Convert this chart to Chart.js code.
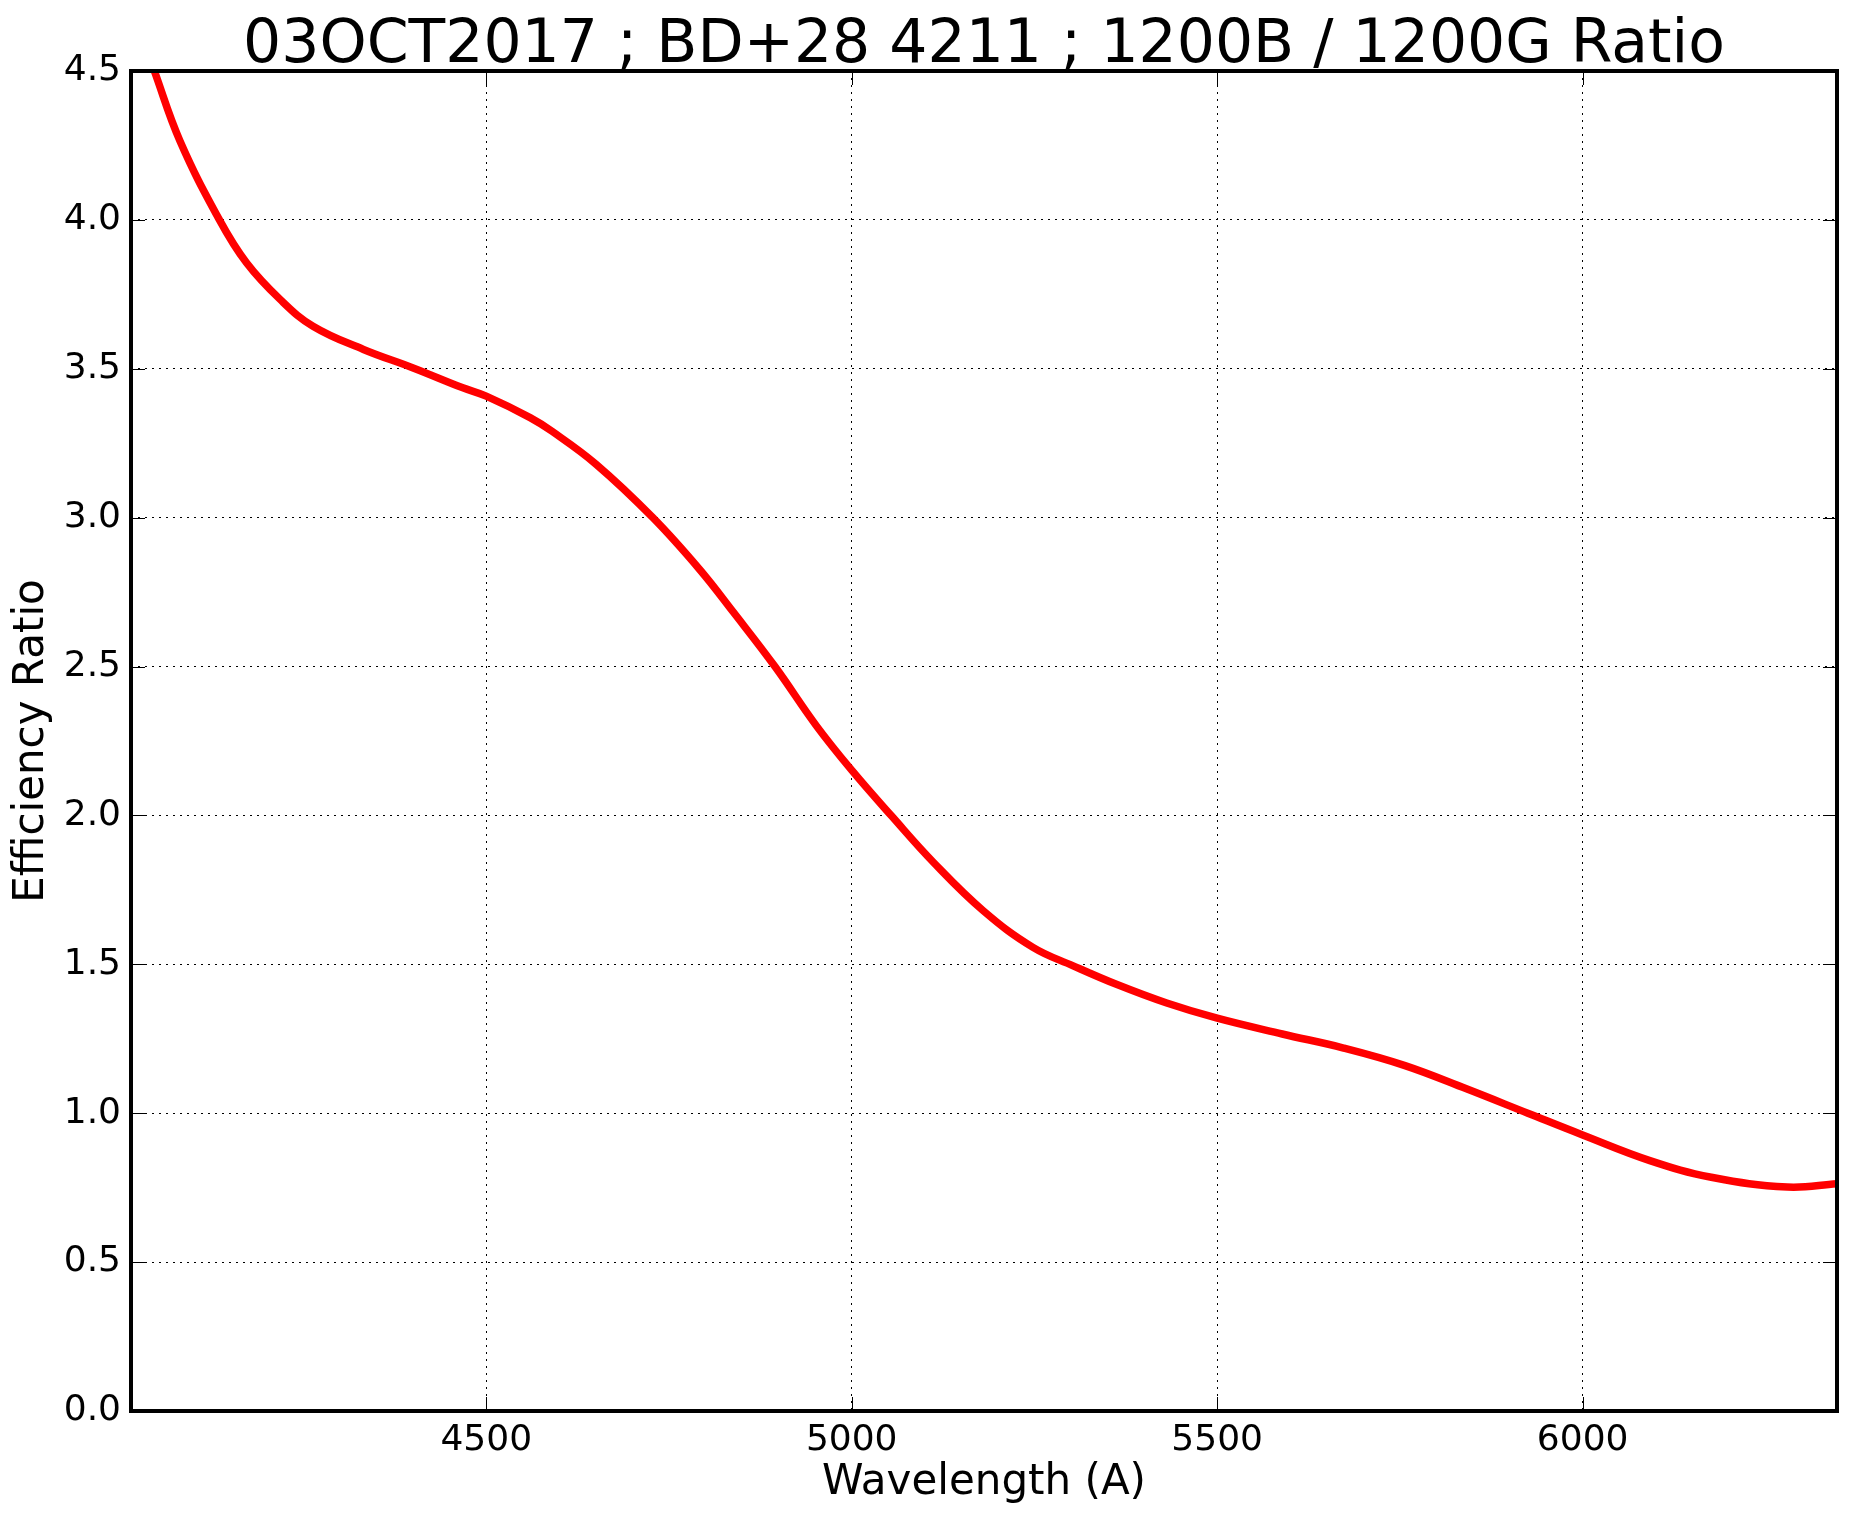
<!DOCTYPE html>
<html>
<head>
<meta charset="utf-8">
<script src="https://cdn.jsdelivr.net/npm/chart.js@4.4.0/dist/chart.umd.min.js"></script>
<style>
  html, body { margin: 0; padding: 0; background: #fff; }
  #wrap { width: 1852px; height: 1524px; }
</style>
</head>
<body>
<div id="wrap"><canvas id="ratio-chart" width="1852" height="1524"></canvas></div>
<script>
// values
const wavelengths = [4014, 4046, 4081, 4135, 4172, 4218, 4263, 4332, 4400, 4468,
  4500, 4560, 4590, 4650, 4728, 4792, 4838, 4895, 4952,
  5000, 5055, 5112, 5180, 5248, 5303, 5363, 5431, 5500,
  5589, 5673, 5757, 5841, 5925, 6000, 6092, 6176, 6280, 6348];
const ratios = [4.72, 4.50, 4.265, 4.00, 3.856, 3.733, 3.643, 3.565, 3.503, 3.436,
  3.408, 3.336, 3.29, 3.18, 3.00, 2.826, 2.683, 2.50, 2.30,
  2.152, 1.997, 1.842, 1.68, 1.557, 1.495, 1.432, 1.370, 1.319,
  1.266, 1.219, 1.160, 1.082, 1.00, 0.927, 0.841, 0.785, 0.752, 0.763];

const xTicks = [4500, 5000, 5500, 6000];
const yTicks = [0, 0.5, 1.0, 1.5, 2.0, 2.5, 3.0, 3.5, 4.0, 4.5];
const xRange = [4014, 6348];
const yRange = [0, 4.5];

const chartTitle = "03OCT2017 ; BD+28 4211 ; 1200B / 1200G Ratio";
const xLabel = "Wavelength (A)";
const yLabel = "Efficiency Ratio";

Chart.defaults.font.family = "'DejaVu Sans', sans-serif";
Chart.defaults.color = "#000";

// matplotlib-style box: frame, inward ticks on all sides, title over the plot area
const framePlugin = {
  id: "frame",
  afterDatasetsDraw(chart) {
    const { ctx, chartArea: a, scales } = chart;
    const tick = 14;
    ctx.save();
    ctx.strokeStyle = "#000";
    ctx.lineWidth = 1;
    ctx.beginPath();
    xTicks.forEach((v) => {
      const px = Math.round(scales.x.getPixelForValue(v)) + 0.5;
      ctx.moveTo(px, a.bottom);
      ctx.lineTo(px, a.bottom - tick);
      ctx.moveTo(px, a.top);
      ctx.lineTo(px, a.top + tick);
    });
    yTicks.forEach((v) => {
      const py = Math.round(scales.y.getPixelForValue(v)) + 0.5;
      ctx.moveTo(a.left, py);
      ctx.lineTo(a.left + tick, py);
      ctx.moveTo(a.right, py);
      ctx.lineTo(a.right - tick, py);
    });
    ctx.stroke();

    ctx.lineWidth = 4;
    ctx.strokeRect(a.left, a.top, a.right - a.left, a.bottom - a.top);

    ctx.fillStyle = "#000";
    ctx.font = "60px 'DejaVu Sans'";
    ctx.textAlign = "center";
    ctx.textBaseline = "alphabetic";
    ctx.fillText(chartTitle, (a.left + a.right) / 2, 62);
    ctx.restore();
  },
};

const ctx = document.getElementById("ratio-chart");

new Chart(ctx, {
  type: "line",
  data: {
    datasets: [
      {
        label: "1200B / 1200G",
        data: wavelengths.map((w, i) => ({ x: w, y: ratios[i] })),
        borderColor: "#ff0000",
        borderWidth: 7.5,
        pointRadius: 0,
        fill: false,
        tension: 0.4,
        clip: 0,
      },
    ],
  },
  options: {
    responsive: false,
    animation: false,
    devicePixelRatio: 1,
    layout: { padding: { top: 71, right: 15, left: 0, bottom: 0 } },
    plugins: {
      legend: { display: false },
      tooltip: { enabled: false },
    },
    scales: {
      x: {
        type: "linear",
        min: xRange[0],
        max: xRange[1],
        afterBuildTicks: (scale) => {
          scale.ticks = xTicks.map((v) => ({ value: v }));
        },
        afterFit: (scale) => {
          scale.height = 113;
        },
        ticks: {
          padding: 8,
          font: { size: 36 },
          callback: (v) => String(v),
        },
        grid: { color: "#000", lineWidth: 1, drawTicks: false },
        border: { display: false, dash: [2, 5] },
        title: {
          display: true,
          text: xLabel,
          font: { size: 42 },
          padding: { top: 0, bottom: 16 },
        },
      },
      y: {
        min: yRange[0],
        max: yRange[1],
        afterBuildTicks: (scale) => {
          scale.ticks = yTicks.map((v) => ({ value: v }));
        },
        afterFit: (scale) => {
          scale.width = 131;
        },
        ticks: {
          padding: 10,
          font: { size: 36 },
          callback: (v) => Number(v).toFixed(1),
        },
        grid: { color: "#000", lineWidth: 1, drawTicks: false },
        border: { display: false, dash: [2, 5] },
        title: {
          display: true,
          text: yLabel,
          font: { size: 42 },
          padding: { top: 7, bottom: 0 },
        },
      },
    },
  },
  plugins: [framePlugin],
});
</script>
</body>
</html>
